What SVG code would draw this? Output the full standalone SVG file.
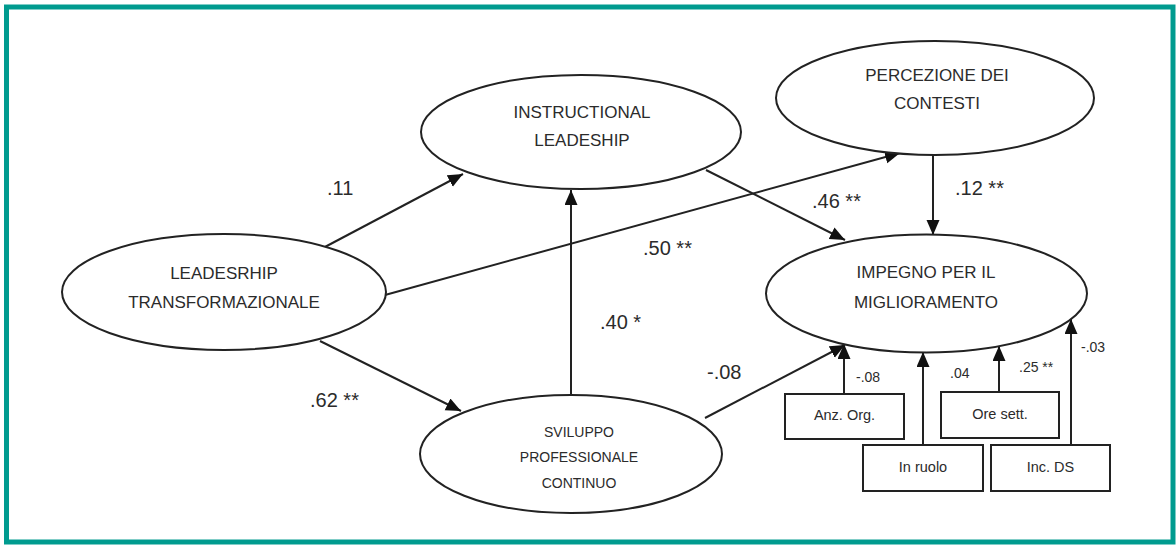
<svg xmlns="http://www.w3.org/2000/svg" width="1176" height="545" viewBox="0 0 1176 545">
  <style>
    .node ellipse, .node rect { fill: #ffffff; stroke: #222222; stroke-width: 2; }
    .lbl { font-family: "Liberation Sans", Arial, sans-serif; fill: #2b2b2b; text-anchor: middle; dominant-baseline: central; }
    .big { font-size: 17px; }
    .mid { font-size: 14px; }
    .box { font-size: 14.5px; }
    .coef { font-family: "Liberation Sans", Arial, sans-serif; fill: #2b2b2b; font-size: 20px; dominant-baseline: central; }
    .small { font-family: "Liberation Sans", Arial, sans-serif; fill: #2b2b2b; font-size: 14px; dominant-baseline: central; }
    .edge { stroke: #222222; stroke-width: 2; fill: none; marker-end: url(#arrow); }
  </style>
  <defs>
    <marker id="arrow" markerUnits="userSpaceOnUse" markerWidth="16" markerHeight="14" refX="15" refY="6.5" orient="auto">
      <path d="M0,0 L15,6.5 L0,13 z" fill="#111111"/>
    </marker>
  </defs>

  <!-- outer frame -->
  <rect x="6.5" y="7" width="1166.5" height="535" fill="#ffffff" stroke="#009b8f" stroke-width="5"/>

  <g id="connectors">
    <line class="edge" x1="323" y1="248" x2="463" y2="174"/>
    <line class="edge" x1="320" y1="341" x2="461" y2="411"/>
    <line class="edge" x1="385" y1="295" x2="900" y2="153"/>
    <line class="edge" x1="706" y1="170" x2="845" y2="240"/>
    <line class="edge" x1="933" y1="155" x2="933" y2="235"/>
    <line class="edge" x1="571" y1="396" x2="571" y2="190"/>
    <line class="edge" x1="705" y1="418" x2="845" y2="345"/>
    <line class="edge" x1="844" y1="394" x2="844" y2="344"/>
    <line class="edge" x1="923" y1="445" x2="923" y2="352"/>
    <line class="edge" x1="999" y1="392" x2="999" y2="346"/>
    <line class="edge" x1="1071" y1="445" x2="1071" y2="319"/>
  </g>

  <g id="leadership-transformazionale" class="node">
    <ellipse cx="224" cy="292" rx="162" ry="58"/>
    <text class="lbl big" x="224" y="273">LEADESRHIP</text>
    <text class="lbl big" x="224" y="302">TRANSFORMAZIONALE</text>
  </g>
  <g id="instructional-leadership" class="node">
    <ellipse cx="581" cy="132" rx="160" ry="57"/>
    <text class="lbl big" x="582" y="112">INSTRUCTIONAL</text>
    <text class="lbl big" x="582" y="140">LEADESHIP</text>
  </g>
  <g id="percezione-contesti" class="node">
    <ellipse cx="935" cy="98" rx="159" ry="57"/>
    <text class="lbl big" x="937" y="75">PERCEZIONE DEI</text>
    <text class="lbl big" x="937" y="103">CONTESTI</text>
  </g>
  <g id="impegno-miglioramento" class="node">
    <ellipse cx="926.5" cy="293.5" rx="160.5" ry="59"/>
    <text class="lbl big" x="926" y="272">IMPEGNO PER IL</text>
    <text class="lbl big" x="926" y="302">MIGLIORAMENTO</text>
  </g>
  <g id="sviluppo-professionale" class="node">
    <ellipse cx="571" cy="454" rx="151" ry="59"/>
    <text class="lbl mid" x="579" y="432">SVILUPPO</text>
    <text class="lbl mid" x="579" y="457">PROFESSIONALE</text>
    <text class="lbl mid" x="579" y="483">CONTINUO</text>
  </g>
  <g id="anz-org" class="node">
    <rect x="785" y="394" width="119" height="45"/>
    <text class="lbl box" x="844.5" y="415">Anz. Org.</text>
  </g>
  <g id="ore-sett" class="node">
    <rect x="941" y="392" width="118" height="46"/>
    <text class="lbl box" x="1000" y="414">Ore sett.</text>
  </g>
  <g id="in-ruolo" class="node">
    <rect x="863" y="445" width="120" height="46"/>
    <text class="lbl box" x="923" y="467">In ruolo</text>
  </g>
  <g id="inc-ds" class="node">
    <rect x="991" y="445" width="119" height="46"/>
    <text class="lbl box" x="1050.5" y="467">Inc. DS</text>
  </g>

  <g id="coefficients">
    <text class="coef" x="327" y="188">.11</text>
    <text class="coef" x="310" y="400">.62 **</text>
    <text class="coef" x="643" y="248">.50 **</text>
    <text class="coef" x="812" y="201">.46 **</text>
    <text class="coef" x="955" y="188">.12 **</text>
    <text class="coef" x="600" y="322">.40 *</text>
    <text class="coef" x="707" y="372">-.08</text>
    <text class="small" x="856" y="377">-.08</text>
    <text class="small" x="950" y="373">.04</text>
    <text class="small" x="1019" y="367">.25 **</text>
    <text class="small" x="1081" y="347">-.03</text>
  </g>
</svg>
